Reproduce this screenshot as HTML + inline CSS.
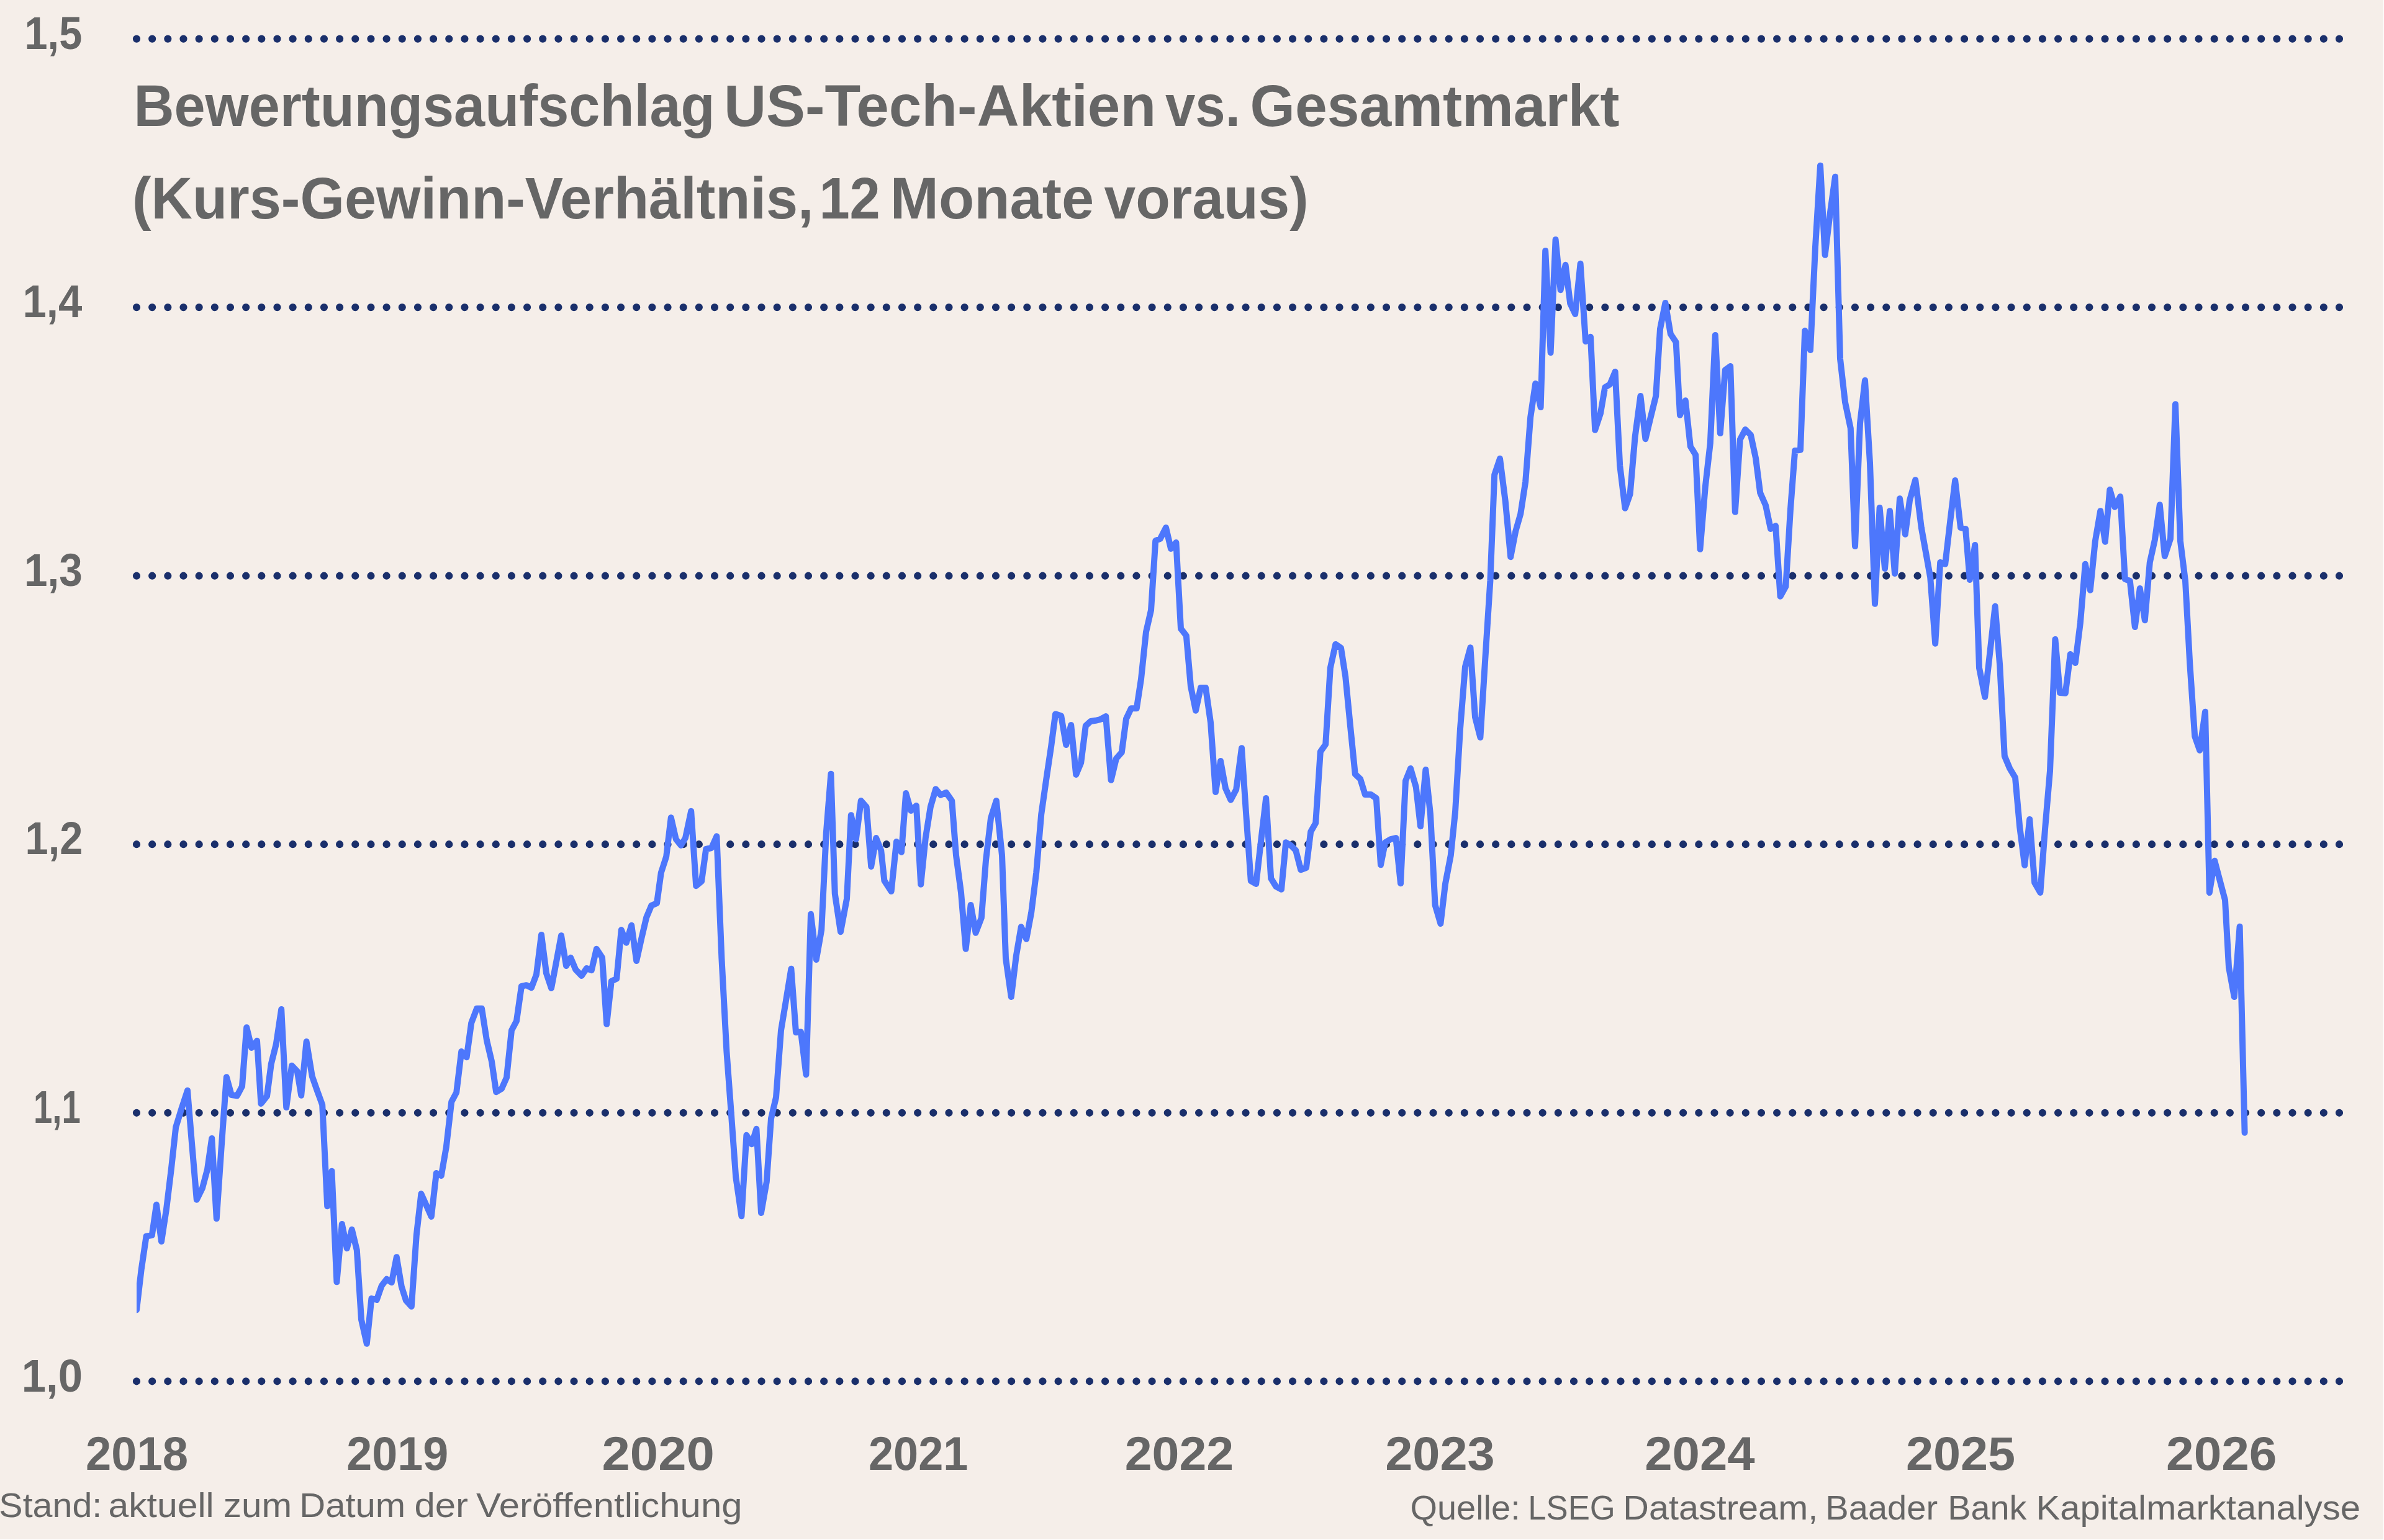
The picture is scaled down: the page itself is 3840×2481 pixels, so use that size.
<!DOCTYPE html>
<html lang="de"><head><meta charset="utf-8"><title>Bewertungsaufschlag US-Tech-Aktien vs. Gesamtmarkt</title>
<style>
html,body{margin:0;padding:0;background:#f5eee9;}
body{width:3840px;height:2481px;overflow:hidden;}
svg{display:block;font-family:"Liberation Sans",sans-serif;}
.t{fill:#666666;}
.b{font-weight:bold;}
</style></head><body>
<svg width="3840" height="2481" viewBox="0 0 3840 2481">
<rect width="3840" height="2481" fill="#f5eee9"/>
<clipPath id="c"><rect x="220" y="0" width="3600" height="2481"/></clipPath>
<line x1="220.0" y1="62.6" x2="3768.2" y2="62.6" stroke="#1a2f6b" stroke-width="12.2" stroke-linecap="round" stroke-dasharray="0 25.1631"/>
<line x1="220.0" y1="495.1" x2="3768.2" y2="495.1" stroke="#1a2f6b" stroke-width="12.2" stroke-linecap="round" stroke-dasharray="0 25.1631"/>
<line x1="220.0" y1="927.7" x2="3768.2" y2="927.7" stroke="#1a2f6b" stroke-width="12.2" stroke-linecap="round" stroke-dasharray="0 25.1631"/>
<line x1="220.0" y1="1360.2" x2="3768.2" y2="1360.2" stroke="#1a2f6b" stroke-width="12.2" stroke-linecap="round" stroke-dasharray="0 25.1631"/>
<line x1="220.0" y1="1792.8" x2="3768.2" y2="1792.8" stroke="#1a2f6b" stroke-width="12.2" stroke-linecap="round" stroke-dasharray="0 25.1631"/>
<line x1="220.0" y1="2225.3" x2="3768.2" y2="2225.3" stroke="#1a2f6b" stroke-width="12.2" stroke-linecap="round" stroke-dasharray="0 25.1631"/>
<text class="t b" y="78.8" font-size="75"><tspan x="39.56" textLength="92.66" lengthAdjust="spacingAndGlyphs">1,5</tspan></text>
<text class="t b" y="511.3" font-size="75"><tspan x="36.38" textLength="95.86" lengthAdjust="spacingAndGlyphs">1,4</tspan></text>
<text class="t b" y="943.9" font-size="75"><tspan x="38.94" textLength="93.75" lengthAdjust="spacingAndGlyphs">1,3</tspan></text>
<text class="t b" y="1376.4" font-size="75"><tspan x="40.53" textLength="92.76" lengthAdjust="spacingAndGlyphs">1,2</tspan></text>
<text class="t b" y="1809.0" font-size="75"><tspan x="53.88" textLength="75.90" lengthAdjust="spacingAndGlyphs">1,1</tspan></text>
<text class="t b" y="2241.5" font-size="75"><tspan x="34.75" textLength="98.26" lengthAdjust="spacingAndGlyphs">1,0</tspan></text>
<text class="t b" y="202.5" font-size="95"><tspan x="215.43" textLength="936.16" lengthAdjust="spacingAndGlyphs">Bewertungsaufschlag</tspan> <tspan x="1165.91" textLength="696.20" lengthAdjust="spacingAndGlyphs">US-Tech-Aktien</tspan> <tspan x="1876.96" textLength="120.86" lengthAdjust="spacingAndGlyphs">vs.</tspan> <tspan x="2013.47" textLength="595.04" lengthAdjust="spacingAndGlyphs">Gesamtmarkt</tspan></text>
<text class="t b" y="351.6" font-size="95"><tspan x="212.95" textLength="1097.61" lengthAdjust="spacingAndGlyphs">(Kurs-Gewinn-Verhältnis,</tspan> <tspan x="1319.38" textLength="98.46" lengthAdjust="spacingAndGlyphs">12</tspan> <tspan x="1433.82" textLength="328.26" lengthAdjust="spacingAndGlyphs">Monate</tspan> <tspan x="1778.49" textLength="329.10" lengthAdjust="spacingAndGlyphs">voraus)</tspan></text>
<text class="t b" y="2368.2" font-size="76"><tspan x="138.06" textLength="164.95" lengthAdjust="spacingAndGlyphs">2018</tspan></text>
<text class="t b" y="2368.2" font-size="76"><tspan x="558.22" textLength="163.93" lengthAdjust="spacingAndGlyphs">2019</tspan></text>
<text class="t b" y="2368.2" font-size="76"><tspan x="969.60" textLength="181.12" lengthAdjust="spacingAndGlyphs">2020</tspan></text>
<text class="t b" y="2368.2" font-size="76"><tspan x="1399.06" textLength="160.27" lengthAdjust="spacingAndGlyphs">2021</tspan></text>
<text class="t b" y="2368.2" font-size="76"><tspan x="1811.74" textLength="175.52" lengthAdjust="spacingAndGlyphs">2022</tspan></text>
<text class="t b" y="2368.2" font-size="76"><tspan x="2231.15" textLength="176.50" lengthAdjust="spacingAndGlyphs">2023</tspan></text>
<text class="t b" y="2368.2" font-size="76"><tspan x="2649.25" textLength="177.43" lengthAdjust="spacingAndGlyphs">2024</tspan></text>
<text class="t b" y="2368.2" font-size="76"><tspan x="3069.92" textLength="176.29" lengthAdjust="spacingAndGlyphs">2025</tspan></text>
<text class="t b" y="2368.2" font-size="76"><tspan x="3489.04" textLength="178.42" lengthAdjust="spacingAndGlyphs">2026</tspan></text>
<text class="t" y="2443.6" font-size="55.5"><tspan x="-1.65" textLength="165.90" lengthAdjust="spacingAndGlyphs">Stand:</tspan> <tspan x="174.42" textLength="170.23" lengthAdjust="spacingAndGlyphs">aktuell</tspan> <tspan x="359.89" textLength="110.31" lengthAdjust="spacingAndGlyphs">zum</tspan> <tspan x="482.23" textLength="170.94" lengthAdjust="spacingAndGlyphs">Datum</tspan> <tspan x="667.41" textLength="86.65" lengthAdjust="spacingAndGlyphs">der</tspan> <tspan x="767.00" textLength="428.54" lengthAdjust="spacingAndGlyphs">Veröffentlichung</tspan></text>
<text class="t" y="2447.8" font-size="55.5"><tspan x="2271.40" textLength="177.31" lengthAdjust="spacingAndGlyphs">Quelle:</tspan> <tspan x="2461.22" textLength="140.54" lengthAdjust="spacingAndGlyphs">LSEG</tspan> <tspan x="2614.34" textLength="313.83" lengthAdjust="spacingAndGlyphs">Datastream,</tspan> <tspan x="2940.35" textLength="180.70" lengthAdjust="spacingAndGlyphs">Baader</tspan> <tspan x="3137.32" textLength="127.22" lengthAdjust="spacingAndGlyphs">Bank</tspan> <tspan x="3279.43" textLength="522.61" lengthAdjust="spacingAndGlyphs">Kapitalmarktanalyse</tspan></text>
<polyline clip-path="url(#c)" fill="none" stroke="#4d77fc" stroke-width="10" stroke-linejoin="round" stroke-linecap="round" points="220.0,2110.4 227.6,2045.6 235.6,1991.6 244.8,1990.0 252.0,1940.8 260.0,2000.0 268.0,1948.0 276.0,1882.0 283.2,1816.0 292.4,1786.0 302.0,1756.8 309.2,1844.0 316.8,1932.8 326.0,1914.0 334.0,1884.0 341.2,1834.0 348.8,1963.2 356.8,1846.0 364.8,1735.2 372.8,1764.0 382.0,1765.2 390.0,1750.0 397.2,1655.2 405.2,1688.0 414.0,1676.8 420.4,1778.0 430.0,1766.0 436.8,1714.0 444.8,1682.0 453.2,1626.0 461.2,1784.0 470.0,1716.8 478.8,1726.0 485.2,1764.8 493.6,1678.0 502.8,1734.0 511.2,1758.0 519.2,1780.0 527.2,1943.2 534.4,1886.8 542.4,2065.2 550.8,1972.0 558.8,2011.2 566.8,1980.8 574.8,2014.0 582.0,2126.0 590.8,2164.8 598.4,2092.0 606.8,2094.0 614.8,2071.2 622.8,2060.8 630.8,2066.0 638.8,2025.2 646.8,2072.8 654.0,2095.2 662.8,2104.8 670.8,1990.0 678.4,1923.2 686.8,1942.0 694.8,1960.0 702.8,1890.0 710.8,1894.0 718.8,1848.0 727.2,1775.2 735.2,1760.0 743.2,1694.0 751.6,1703.2 759.2,1648.0 768.0,1624.8 776.0,1624.8 784.0,1676.0 792.0,1710.0 799.2,1759.2 808.0,1754.0 816.0,1736.0 824.0,1660.0 832.0,1644.8 840.0,1588.8 848.0,1587.2 856.0,1591.2 864.0,1570.0 872.0,1506.0 880.0,1568.0 888.0,1592.0 896.0,1550.0 904.0,1507.2 912.0,1556.0 919.2,1542.8 927.2,1562.0 936.8,1572.0 944.8,1560.0 952.8,1563.2 960.8,1528.8 970.0,1542.8 977.2,1650.0 984.8,1580.8 993.2,1576.8 1000.8,1498.0 1008.8,1518.8 1017.2,1490.8 1025.2,1548.0 1033.2,1512.0 1041.2,1478.0 1049.2,1458.8 1058.0,1455.2 1064.8,1406.0 1073.2,1380.0 1080.8,1317.2 1088.8,1352.0 1096.8,1362.0 1104.0,1350.0 1113.2,1306.8 1121.2,1427.2 1130.0,1420.0 1137.2,1368.0 1146.0,1366.0 1154.4,1347.2 1162.4,1544.0 1170.4,1694.0 1178.4,1802.0 1185.2,1896.0 1194.4,1959.2 1202.4,1828.8 1210.8,1843.2 1218.4,1818.8 1226.0,1954.0 1234.8,1904.0 1242.0,1802.0 1250.0,1768.0 1258.0,1660.0 1266.0,1612.0 1274.4,1560.8 1282.0,1663.2 1290.0,1662.4 1298.4,1731.2 1306.0,1472.8 1314.8,1546.0 1323.2,1498.0 1330.8,1342.0 1338.4,1246.8 1344.8,1440.0 1354.0,1501.2 1364.0,1448.0 1370.8,1313.2 1378.8,1352.0 1386.8,1290.0 1395.6,1300.0 1403.2,1396.0 1411.2,1350.0 1419.2,1370.0 1424.4,1418.8 1435.6,1436.0 1444.0,1356.0 1452.0,1372.8 1459.2,1278.0 1467.2,1306.0 1476.0,1298.0 1483.2,1424.8 1490.8,1350.0 1498.8,1300.0 1507.2,1271.2 1515.2,1280.8 1524.0,1276.8 1533.2,1290.0 1540.0,1378.0 1548.0,1438.0 1555.6,1528.8 1563.6,1458.0 1571.6,1502.8 1580.8,1478.8 1588.0,1386.0 1596.0,1318.0 1604.8,1290.0 1614.0,1378.0 1620.0,1544.0 1628.8,1606.0 1636.8,1540.0 1644.8,1493.2 1653.2,1512.8 1661.2,1470.0 1669.2,1406.0 1677.2,1312.0 1685.2,1256.0 1693.2,1202.0 1700.0,1150.4 1709.2,1153.2 1717.2,1200.0 1725.2,1168.0 1733.2,1248.0 1741.2,1228.8 1748.8,1169.2 1756.8,1162.0 1764.8,1160.8 1772.0,1159.2 1781.2,1154.0 1789.6,1256.8 1798.0,1222.0 1806.8,1212.0 1814.0,1158.0 1822.0,1141.2 1830.8,1141.2 1838.0,1094.0 1846.0,1018.0 1854.0,983.2 1861.2,871.2 1868.8,868.0 1878.0,850.0 1886.0,884.0 1894.4,874.0 1902.0,1012.8 1910.8,1024.0 1918.0,1106.0 1926.0,1144.8 1934.0,1108.0 1942.0,1108.0 1950.0,1164.0 1958.0,1276.0 1966.0,1226.0 1974.0,1270.0 1982.4,1288.8 1991.2,1272.0 2000.0,1205.2 2007.2,1312.0 2014.8,1419.2 2023.2,1424.0 2031.2,1354.0 2039.2,1286.0 2047.2,1415.2 2055.2,1428.0 2064.0,1432.8 2071.2,1357.2 2079.2,1362.0 2087.2,1370.0 2095.2,1401.2 2104.0,1398.0 2111.2,1340.0 2119.2,1326.0 2126.8,1211.2 2135.2,1199.2 2142.8,1076.0 2151.2,1038.0 2160.0,1044.0 2167.2,1090.0 2174.8,1168.0 2182.8,1247.2 2191.2,1255.2 2198.8,1280.0 2208.0,1280.0 2216.8,1286.0 2224.0,1393.2 2231.2,1357.2 2240.0,1352.0 2248.4,1350.0 2256.0,1423.2 2264.0,1258.0 2272.0,1238.0 2280.8,1268.0 2288.0,1331.2 2296.4,1240.0 2304.0,1312.0 2311.6,1458.0 2320.4,1488.0 2328.0,1424.0 2336.8,1378.0 2344.0,1308.0 2352.0,1174.0 2360.0,1074.0 2368.4,1043.2 2376.0,1155.2 2384.4,1188.0 2392.4,1060.0 2400.4,936.0 2407.2,764.8 2416.0,738.8 2424.8,808.0 2433.2,897.2 2441.2,856.0 2449.2,828.0 2457.2,776.0 2465.2,672.0 2473.2,618.0 2481.6,656.0 2489.2,404.0 2497.6,568.0 2505.6,386.0 2513.6,467.2 2521.6,426.8 2529.2,488.8 2537.2,506.0 2545.6,424.8 2554.0,550.0 2562.0,542.8 2569.2,692.8 2578.0,666.0 2585.2,624.0 2593.2,619.2 2601.6,598.8 2609.2,750.0 2617.6,818.8 2625.6,796.0 2633.6,704.0 2642.4,638.0 2650.4,707.2 2658.8,672.0 2667.2,638.0 2674.0,530.0 2682.4,488.0 2690.8,538.0 2699.6,551.2 2706.0,668.8 2714.8,645.2 2722.8,719.2 2731.2,732.8 2738.4,884.8 2746.8,784.0 2754.8,714.0 2762.8,540.0 2770.8,698.0 2778.8,596.0 2787.2,590.0 2794.8,824.8 2802.8,708.0 2811.2,692.0 2820.0,700.8 2828.0,738.0 2835.2,794.0 2844.0,814.0 2852.0,852.0 2860.0,847.2 2867.6,960.8 2876.4,944.8 2884.0,820.0 2891.2,726.0 2900.0,724.8 2907.2,532.8 2916.0,564.0 2924.0,398.0 2932.0,266.8 2939.6,410.8 2948.0,342.0 2956.0,284.8 2964.0,578.0 2972.0,648.0 2980.8,690.0 2988.0,880.0 2996.0,682.0 3004.0,612.8 3012.0,746.0 3020.0,972.8 3027.6,818.0 3036.0,916.0 3044.0,823.2 3052.0,924.0 3060.0,803.2 3068.8,860.8 3076.0,806.0 3085.2,773.2 3094.8,850.0 3102.0,890.0 3109.2,930.0 3117.2,1036.8 3125.2,906.0 3133.2,908.8 3141.2,840.0 3149.2,774.0 3158.0,850.0 3166.0,852.0 3172.8,934.0 3181.2,878.0 3188.0,1076.0 3197.2,1122.8 3205.2,1052.0 3213.6,976.8 3221.2,1072.0 3228.8,1218.0 3237.2,1238.0 3246.0,1252.8 3253.2,1332.0 3261.2,1394.0 3269.2,1320.0 3277.2,1422.0 3286.4,1438.0 3294.0,1336.0 3302.0,1242.0 3310.4,1030.0 3318.0,1116.0 3326.8,1116.8 3334.8,1054.0 3342.8,1068.0 3350.8,1004.0 3358.8,908.8 3366.8,950.8 3374.8,872.0 3383.2,823.2 3390.8,872.8 3398.4,788.8 3406.4,816.8 3415.2,800.0 3422.8,932.8 3430.8,936.0 3438.8,1010.0 3446.8,948.0 3454.8,999.2 3462.8,906.0 3470.8,870.0 3478.8,813.2 3486.8,896.0 3496.0,868.0 3504.0,651.2 3512.0,872.0 3520.0,936.0 3527.2,1068.0 3535.2,1186.0 3543.2,1208.8 3552.0,1146.8 3558.8,1438.0 3567.2,1386.8 3576.0,1420.0 3584.0,1450.0 3590.0,1558.0 3598.8,1606.0 3607.6,1492.8 3615.6,1824.8"/>
<rect x="3839" y="0" width="1" height="2481" fill="#ffffff"/><rect x="0" y="2480" width="3840" height="1" fill="#ffffff"/>
</svg></body></html>
